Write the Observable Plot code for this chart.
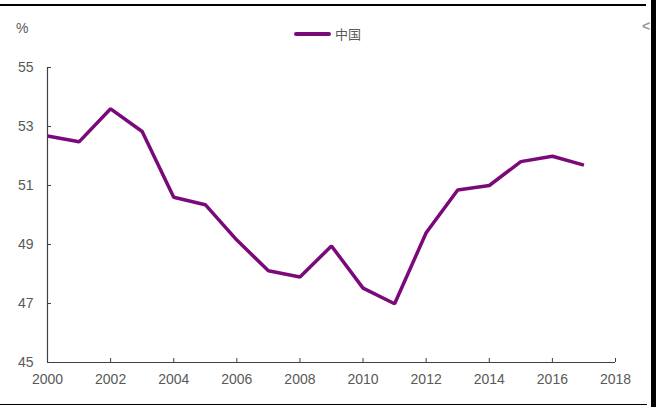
<!DOCTYPE html>
<html>
<head>
<meta charset="utf-8">
<script src="https://cdn.jsdelivr.net/npm/d3@7"></script>
<script src="https://cdn.jsdelivr.net/npm/@observablehq/plot@0.6"></script>
<style>
  html, body { margin: 0; padding: 0; background: #fff; }
  #wrap { position: relative; width: 656px; height: 413px; overflow: hidden; font-family: "Liberation Sans", Arial, sans-serif; }
  #chart { position: absolute; left: 0; top: 0; }
  .bline { position: absolute; background: #000; }
  #unit { position: absolute; left: 16px; top: 20px; font-size: 14px; color: #595959; }
  #legend { position: absolute; left: 294px; top: 24px; display: flex; align-items: center; font-family: "Noto Sans CJK SC", sans-serif; font-size: 13px; color: #595959; }
  #legend .sw { width: 37px; height: 4px; background: #7a0a7a; border-radius: 2px; margin-right: 4px; }
  #arrow { position: absolute; left: 642px; top: 19px; font-size: 14px; font-weight: bold; color: #999; line-height: 1; }
</style>
</head>
<body>
<div id="wrap">
  <div id="chart"></div>
  <div class="bline" style="left:0;top:4px;width:646px;height:1.5px"></div>
  <div class="bline" style="left:0;top:403.5px;width:647px;height:1.5px"></div>
  <div id="arrow">&lt;</div>
  <div class="bline" style="left:651px;top:0;width:5px;height:407px"></div>
  <div id="unit">%</div>
  <div id="legend"><div class="sw"></div><span>中国</span></div>
</div>
<script>
const years = [2000,2001,2002,2003,2004,2005,2006,2007,2008,2009,2010,2011,2012,2013,2014,2015,2016,2017];
const china = [52.68,52.48,53.6,52.83,50.6,50.35,49.15,48.11,47.9,48.95,47.52,46.99,49.4,50.85,51.0,51.81,51.99,51.69];
const xTicks = [2000,2002,2004,2006,2008,2010,2012,2014,2016,2018];
const yTicks = [45,47,49,51,53,55];
const seriesName = "中国";

const data = years.map((y, i) => ({year: y, value: china[i], series: seriesName}));

const chart = Plot.plot({
  width: 656,
  height: 413,
  marginLeft: 47,
  marginRight: 41,
  marginTop: 67,
  marginBottom: 51,
  style: {fontFamily: "Liberation Sans, Arial, sans-serif", fontSize: "14px", color: "#595959", background: "transparent"},
  x: {domain: [2000, 2018]},
  y: {domain: [45, 55]},
  marks: [
    Plot.axisY({ticks: yTicks, tickSize: -4, tickPadding: 18, tickFormat: d => d, label: null, stroke: "#404040", fill: "#595959", fontSize: 14}),
    Plot.axisX({ticks: xTicks, tickSize: -4, tickPadding: 16, tickFormat: d => String(d), label: null, stroke: "#404040", fill: "#595959", fontSize: 14}),
    Plot.ruleX([2000], {stroke: "#404040", strokeWidth: 1.2}),
    Plot.ruleY([45], {stroke: "#404040", strokeWidth: 1.2}),
    Plot.line(data, {x: "year", y: "value", stroke: "#7a0a7a", strokeWidth: 3.5, strokeLinejoin: "miter", strokeLinecap: "butt"})
  ]
});
document.getElementById("chart").appendChild(chart);
</script>
</body>
</html>
